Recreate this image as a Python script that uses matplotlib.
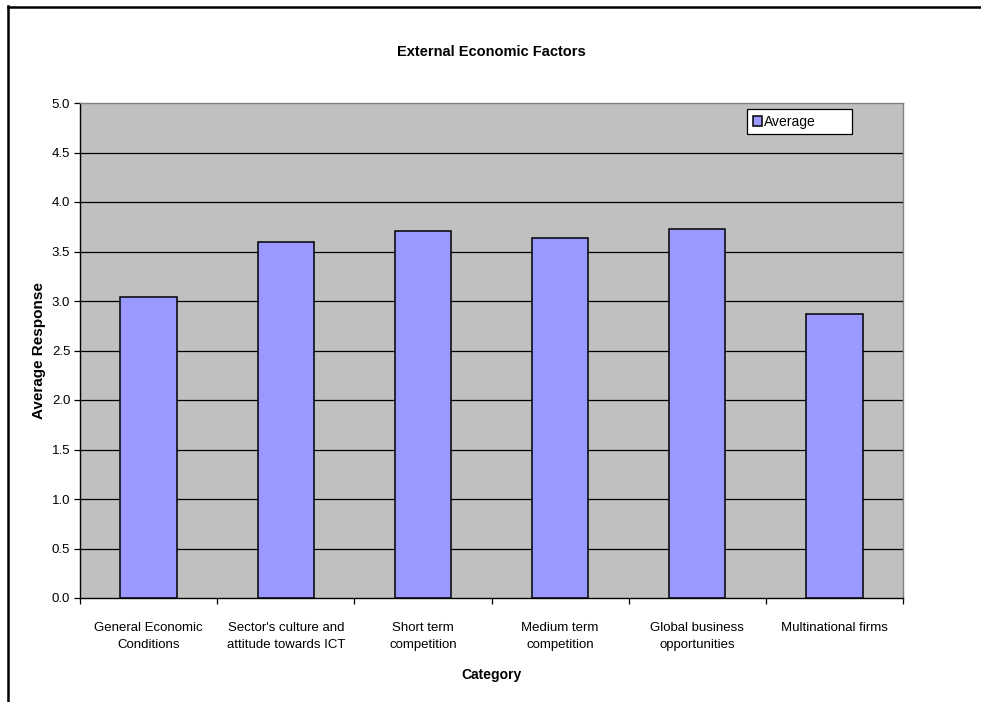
import matplotlib.pyplot as plt
from matplotlib.lines import Line2D
import numpy as np

plt.rcParams['font.family'] = ['Liberation Sans', 'DejaVu Sans']

categories = ['General Economic\nConditions',
              "Sector's culture and\nattitude towards ICT",
              'Short term\ncompetition',
              'Medium term\ncompetition',
              'Global business\nopportunities',
              'Multinational firms']
averages = [3.04, 3.60, 3.71, 3.64, 3.73, 2.87]
yticks = np.arange(0, 5.01, 0.5)

W, H = 981, 702
fig = plt.figure(figsize=(W / 100, H / 100), dpi=100)
fig.patch.set_facecolor('white')

# plot area in pixels: left 80, right 903, top 103, bottom 598
ax = fig.add_axes([80 / W, 1 - 598 / H, (903 - 80) / W, (598 - 103) / H])
ax.set_facecolor('#c0c0c0')

x = np.arange(len(categories))
ax.bar(x, averages, width=0.41, color='#9999ff', edgecolor='black',
       linewidth=1.1, zorder=3, label='Average')

ax.set_xlim(-0.5, len(categories) - 0.5)
ax.set_ylim(0, 5)
ax.set_yticks(yticks)
ax.set_yticklabels(['%.1f' % v for v in yticks], fontsize=9.5)
for v in yticks[1:-1]:
    ax.axhline(v, color='black', linewidth=0.9, zorder=1)

ax.set_xticks(np.arange(-0.5, len(categories), 1.0))
ax.set_xticklabels([])
ax.set_xticks(x, minor=True)
ax.set_xticklabels(categories, minor=True, fontsize=9.5, linespacing=1.65)
ax.tick_params(axis='x', which='minor', length=0, pad=17)
ax.tick_params(axis='x', which='major', direction='out', length=4, width=0.9)
ax.tick_params(axis='y', direction='out', length=4, width=0.9, pad=3)

for side in ['top', 'right']:
    ax.spines[side].set_color('#808080')
    ax.spines[side].set_linewidth(1.0)
for side in ['left', 'bottom']:
    ax.spines[side].set_color('black')
    ax.spines[side].set_linewidth(1.0)

ax.set_ylabel('Average Response', fontsize=11, fontweight='bold')
ax.yaxis.set_label_coords(-34 / 823, 0.5)
ax.set_xlabel('Category', fontsize=10, fontweight='bold')
ax.xaxis.set_label_coords(0.5, -(668 - 598) / 495)
ax.set_title('External Economic Factors', fontsize=10.5, fontweight='bold',
             y=1 + (103 - 52) / 495, va='center', pad=0)

leg = ax.legend(loc='upper left', mode='expand',
                bbox_to_anchor=((747 - 80) / 823, 1 - (109 - 103) / 495,
                                (852 - 747) / 823, 0),
                fontsize=10, frameon=True, fancybox=False, borderpad=0.4,
                handlelength=0.7, handleheight=0.7, handletextpad=0.1,
                borderaxespad=0)
leg.get_frame().set_edgecolor('black')
leg.get_frame().set_linewidth(0.9)
leg.get_frame().set_facecolor('white')
leg.get_frame().set_alpha(1)

# outer chart frame (cut off at the bottom and right)
fig.add_artist(Line2D([8 / W, 8 / W], [0, 1 - 6 / H], color='black', linewidth=1.8))
fig.add_artist(Line2D([8 / W, 1], [1 - 7 / H, 1 - 7 / H], color='black', linewidth=1.8))

fig.savefig('out.png', dpi=100)
